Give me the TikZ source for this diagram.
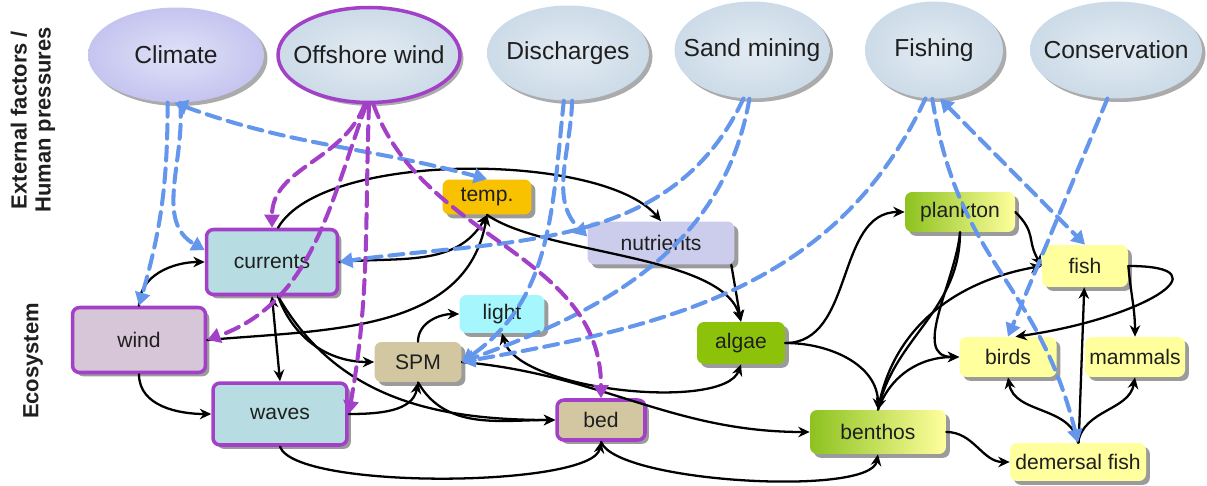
\documentclass[tikz,border=0pt]{standalone}
\usepackage{fontspec}
\setmainfont{Liberation Sans}
\usetikzlibrary{arrows.meta,shapes.geometric,shadows}
\definecolor{owfpurple}{RGB}{163,64,200}
\definecolor{pressblue}{RGB}{100,150,236}
\definecolor{ellblue}{RGB}{204,219,232}
\definecolor{ellclim}{RGB}{196,196,240}
\definecolor{hydro}{RGB}{183,221,226}
\definecolor{windc}{RGB}{215,198,215}
\definecolor{tempc}{RGB}{248,194,0}
\definecolor{nutc}{RGB}{204,204,236}
\definecolor{lightc}{RGB}{165,247,253}
\definecolor{sedc}{RGB}{211,199,162}
\definecolor{algc}{RGB}{140,195,10}
\definecolor{biogreen}{RGB}{141,194,31}
\definecolor{bioyel}{RGB}{255,255,157}
\begin{document}
\begin{tikzpicture}[x=0.02cm,y=0.02cm, line join=round, line cap=round,
	>={Stealth[length=6.5pt,width=6pt]},
	every node/.style={text=black!88, font=\fontsize{12}{14}\selectfont},
	pressure/.style={ellipse, inner xsep=-14pt, inner ysep=-6pt, font=\fontsize{14}{16}\selectfont,
		inner color=ellblue!55, outer color=ellblue,
		drop shadow={shadow xshift=2pt, shadow yshift=-2pt, fill=black!55, opacity=0.6}},
	comp/.style={rectangle, rounded corners=4pt, inner sep=0pt,
		drop shadow={shadow xshift=2.2pt, shadow yshift=-2.2pt, fill=black!60, opacity=0.65}},
	owf/.style={draw=owfpurple, line width=2pt},
	bio/.style={comp, left color=biogreen, right color=bioyel},
	top/.style={comp, fill=bioyel},
	link/.style={->, line width=1.3pt},
	bluedash/.style={draw=pressblue, line width=2.3pt, dash pattern=on 8pt off 4.5pt,
		-{Triangle[length=7.5pt,width=8.5pt]}},
	purpledash/.style={bluedash, draw=owfpurple},
	both/.style={{Triangle[length=7.5pt,width=8.5pt]}-{Triangle[length=7.5pt,width=8.5pt]}}]
	\useasboundingbox (0,0) rectangle (1207,-486);
	% side labels
	\node[rotate=90, align=center, font=\fontsize{12.5}{13.6}\selectfont\bfseries] (extlabel) at (33,-120) {External factors /\\Human pressures};
	\node[rotate=90, font=\fontsize{12.5}{14}\selectfont\bfseries] (ecolabel) at (33,-361) {Ecosystem};
	% external factors / human pressures
	\node[pressure, minimum width=3.52cm, minimum height=1.9cm, inner color=ellclim!50, outer color=ellclim] (climate) at (176,-55) {Climate};
	\node[pressure, owf, minimum width=3.64cm, minimum height=1.9cm] (offshore) at (369,-55) {Offshore wind};
	\node[pressure, minimum width=3.24cm, minimum height=1.9cm] (discharges) at (568,-53) {Discharges};
	\node[pressure, minimum width=3.1cm, minimum height=1.94cm] (sandmining) at (752,-50) {Sand mining};
	\node[pressure, minimum width=2.76cm, minimum height=1.94cm] (fishing) at (934,-50) {Fishing};
	\node[pressure, minimum width=3.44cm, minimum height=1.94cm] (conservation) at (1116,-50) {Conservation};
	% ecosystem components
	\node[comp, fill=tempc, minimum width=1.78cm, minimum height=0.7cm] (temp) at (487,-197) {temp.};
	\node[comp, owf, fill=hydro, minimum width=2.62cm, minimum height=1.3cm] (currents) at (272,-262) {currents};
	\node[comp, fill=nutc, minimum width=2.94cm, minimum height=0.86cm] (nutrients) at (661,-243) {nutrients};
	\node[bio, minimum width=2.2cm, minimum height=0.8cm] (plankton) at (960,-212) {plankton};
	\node[top, minimum width=1.72cm, minimum height=0.84cm] (fish) at (1085,-266) {fish};
	\node[comp, owf, fill=windc, minimum width=2.66cm, minimum height=1.3cm] (wind) at (139,-340) {wind};
	\node[comp, fill=lightc, minimum width=1.7cm, minimum height=0.76cm] (light) at (502,-314) {light};
	\node[comp, fill=sedc, minimum width=1.74cm, minimum height=0.8cm] (spm) at (418,-362) {SPM};
	\node[comp, fill=algc, minimum width=1.76cm, minimum height=0.84cm] (algae) at (741,-343) {algae};
	\node[top, minimum width=1.94cm, minimum height=0.8cm] (birds) at (1008,-357) {birds};
	\node[top, minimum width=2cm, minimum height=0.8cm] (mammals) at (1135,-357) {mammals};
	\node[comp, owf, fill=hydro, minimum width=2.68cm, minimum height=1.24cm] (waves) at (280,-414) {waves};
	\node[comp, owf, fill=sedc, minimum width=1.76cm, minimum height=0.8cm] (bed) at (601,-420) {bed};
	\node[bio, minimum width=2.72cm, minimum height=0.88cm] (benthos) at (878,-432) {benthos};
	\node[top, minimum width=2.72cm, minimum height=0.76cm] (demersal) at (1078,-462) {demersal fish};
	% ecosystem links
	\draw[link] (wind.north) to[out=90,in=180] (currents.west);
	\draw[link] (wind.south) to[out=-90,in=180] (waves.west);
	\draw[link,<->] (currents.south) -- (waves.north);
	\draw[link] (currents.-80) to[out=-70,in=180] (spm.west);
	\draw[link] (currents.-80) to[out=-60,in=180] (bed.west);
	\draw[link] (waves.east) to[out=0,in=-100] (spm.south);
	\draw[link] (spm.south) to[out=-60,in=180] (bed.west);
	\draw[link] (spm.north) to[out=90,in=180] (light.west);
	\draw[link,<->] (light.south) .. controls +(-75:60) and +(-110:50) .. (algae.south);
	\draw[link] (spm.east) to[out=-5,in=180] (benthos.west);
	\draw[link] (bed.south) to[out=-70,in=-100,looseness=0.4] (benthos.south);
	\draw[link] (waves.south) to[out=-70,in=-100,looseness=0.37] (bed.south);
	\draw[link] (currents.east) to[out=5,in=-120] (temp.south);
	\draw[link] (wind.east) to[out=5,in=-100] (temp.south);
	\draw[link] (temp.south) .. controls +(-35:70) and +(105:70) .. (algae.north);
	\draw[link] ([xshift=-2pt]nutrients.south east) -- (algae.north);
	\draw[link] (currents.80) to[out=60,in=130,looseness=0.6] (nutrients.north);
	\draw[link] (algae.east) to[out=0,in=180] (plankton.west);
	\draw[link] (algae.east) to[out=0,in=90] (benthos.north);
	\draw[link] (plankton.south) to[out=-90,in=75] (benthos.north);
	\draw[link] (plankton.south) to[out=-95,in=180] (birds.west);
	\draw[link] (benthos.north) to[out=70,in=180] (birds.west);
	\draw[link] (benthos.north) to[out=80,in=190] (fish.west);
	\draw[link] (plankton.east) to[out=-45,in=120,looseness=1.3] (fish.west);
	\draw[link] (fish.east) to[out=-85,in=90] (mammals.north);
	\draw[link] (fish.east) .. controls +(0:102) and +(8:126) .. (birds.70);
	\draw[link] (demersal) -- (fish);
	\draw[link] (demersal.north) to[out=100,in=-80] (birds.south);
	\draw[link] (demersal.north) to[out=80,in=-100] (mammals.south);
	\draw[link] (benthos.east) to[out=0,in=180] (demersal.west);
	% pressures
	\draw[bluedash] (climate.-100) to[bend left=8] (wind.north);
	\draw[bluedash] (climate.-85) to[out=-85,in=150] (currents.170);
	\draw[bluedash,both] (climate.-92) to[out=-20,in=165] (temp.north);
	\draw[bluedash] (discharges.-85) to[out=-92,in=135] (nutrients.175);
	\draw[bluedash] (discharges.-95) to[out=-96,in=35] (spm.east);
	\draw[bluedash] (sandmining.-100) to[out=-115,in=8] (currents.east);
	\draw[bluedash] (sandmining.-93) to[out=-100,in=20] (spm.east);
	\draw[bluedash] (fishing.-100) to[out=-115,in=10] (spm.east);
	\draw[bluedash,both] (fishing.-83) -- (fish.north);
	\draw[bluedash] (fishing.-92) to[out=-81,in=104,looseness=1.15] (demersal.north);
	\draw[bluedash] (conservation.-100) -- (birds.north);
	\draw[purpledash] (offshore.-95) to[out=-110,in=90] (currents.north);
	\draw[purpledash] (offshore.-93) to[out=-110,in=20] (wind.east);
	\draw[purpledash] (offshore.-90) to[out=-92,in=80] (waves.east);
	\draw[purpledash] (offshore.-85) to[out=-70,in=90] (bed.north);
\end{tikzpicture}
\end{document}
